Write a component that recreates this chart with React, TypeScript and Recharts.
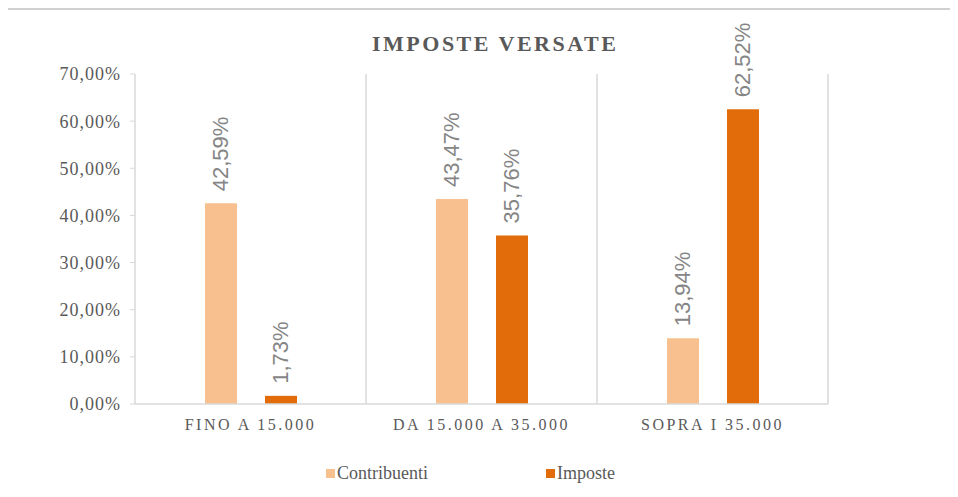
import React from 'react';
import { BarChart, Bar, XAxis, YAxis, CartesianGrid, Legend, LabelList } from 'recharts';

const categories = ['FINO A 15.000', 'DA 15.000 A 35.000', 'SOPRA I 35.000'];
const contribuenti = [42.59, 43.47, 13.94];
const imposte = [1.73, 35.76, 62.52];
const yTicks = [0, 10, 20, 30, 40, 50, 60, 70];

const LIGHT = '#F9C08F';
const DARK = '#E36C0A';
const GRID = '#D9D9D9';
const FRAME = '#D0D0D0';
const TEXT = '#595959';
const SERIF = 'Liberation Serif';

const data = categories.map((name, i) => ({
  name,
  contribuenti: contribuenti[i],
  imposte: imposte[i],
}));

const fmt = (v: number) => `${v.toFixed(2).replace('.', ',')}%`;

const ValueLabel = (props: any) => {
  const { x, y, width, value } = props;
  const cx = Number(x) + Number(width) / 2;
  const ty = Number(y) - 12;
  return (
    <text
      x={cx}
      y={ty}
      transform={`rotate(-90, ${cx}, ${ty})`}
      textAnchor="start"
      dominantBaseline="central"
      fill="#858585"
      fontSize={22}
      fontFamily="Liberation Sans"
    >
      {fmt(Number(value))}
    </text>
  );
};

const LegendContent = (props: any) => {
  const { payload } = props;
  return (
    <div style={{ display: 'flex', justifyContent: 'flex-start', paddingLeft: 321 }}>
      {(payload || []).map((p: any, i: number) => (
        <span
          key={i}
          style={{
            display: 'inline-flex',
            alignItems: 'center',
            width: i === 0 ? 220 : 'auto',
            fontFamily: SERIF,
            fontSize: 18,
            color: TEXT,
          }}
        >
          <span style={{ width: 9, height: 9, background: p.color, display: 'inline-block', marginRight: 2 }} />
          {p.value}
        </span>
      ))}
    </div>
  );
};

export default function App() {
  return (
    <div
      style={{
        position: 'relative',
        marginLeft: -2,
        width: 952,
        height: 489,
        background: '#fff',
        borderLeft: `2px solid ${FRAME}`,
        borderTop: `2px solid ${FRAME}`,
        boxSizing: 'border-box',
        overflow: 'hidden',
      }}
    >
      <div
        style={{
          position: 'absolute',
          left: 364,
          top: 21,
          whiteSpace: 'nowrap',
          fontFamily: SERIF,
          fontWeight: 'bold',
          fontSize: 22,
          letterSpacing: 2.5,
          color: TEXT,
        }}
      >
        IMPOSTE VERSATE
      </div>
      <div style={{ position: 'absolute', left: -3, top: -2 }}>
        <BarChart
          width={951}
          height={489}
          data={data}
          margin={{ top: 66, right: 128, bottom: 14, left: 0 }}
          barGap={28}
          barSize={32}
        >
          <CartesianGrid
            horizontal={false}
            stroke={GRID}
            strokeWidth={1.5}
            verticalCoordinatesGenerator={({ offset }: any) =>
              [1, 2, 3].map((i) => offset.left + (offset.width * i) / 3)
            }
          />
          <XAxis
            dataKey="name"
            height={59}
            axisLine={{ stroke: GRID, strokeWidth: 1.5 }}
            tickLine={false}
            tickMargin={9}
            tick={{ fill: TEXT, fontSize: 16, fontFamily: SERIF, letterSpacing: 2.5 }}
          />
          <YAxis
            width={130}
            domain={[0, 70]}
            ticks={yTicks}
            tickFormatter={fmt}
            axisLine={{ stroke: GRID, strokeWidth: 1.5 }}
            tickLine={{ stroke: GRID }}
            tickSize={5}
            tickMargin={9}
            tick={{ fill: TEXT, fontSize: 18, fontFamily: SERIF, letterSpacing: 1 }}
          />
          <Legend verticalAlign="bottom" height={20} content={<LegendContent />} />
          <Bar dataKey="contribuenti" name="Contribuenti" fill={LIGHT} isAnimationActive={false}>
            <LabelList dataKey="contribuenti" content={<ValueLabel />} />
          </Bar>
          <Bar dataKey="imposte" name="Imposte" fill={DARK} isAnimationActive={false}>
            <LabelList dataKey="imposte" content={<ValueLabel />} />
          </Bar>
        </BarChart>
      </div>
    </div>
  );
}
